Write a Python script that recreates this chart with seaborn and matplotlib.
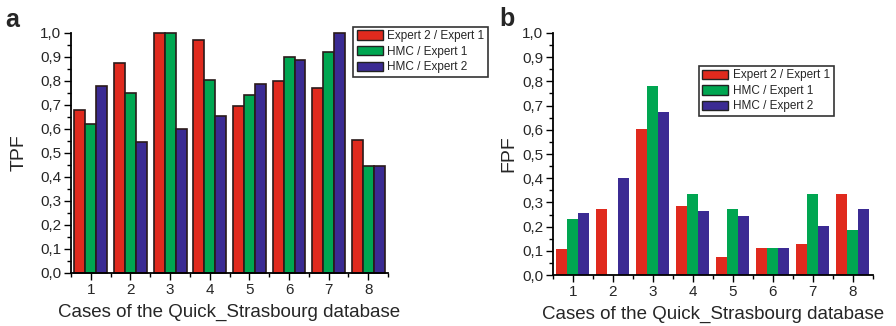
import matplotlib
matplotlib.use("Agg")
import matplotlib.pyplot as plt
import matplotlib.ticker as mticker
import seaborn as sns
import pandas as pd

sns.set_style("ticks")
plt.rcParams['font.family'] = ['Liberation Sans', 'DejaVu Sans']

cases = ["1", "2", "3", "4", "5", "6", "7", "8"]
series = ["Expert 2 / Expert 1", "HMC / Expert 1", "HMC / Expert 2"]
colors = ["#e02a1e", "#00a651", "#3b2b93"]

tpf_e2_e1 = [0.68, 0.875, 1.0, 0.97, 0.695, 0.80, 0.77, 0.555]
tpf_hmc_e1 = [0.62, 0.75, 1.0, 0.805, 0.74, 0.90, 0.92, 0.445]
tpf_hmc_e2 = [0.78, 0.545, 0.60, 0.652, 0.785, 0.887, 1.0, 0.445]

fpf_e2_e1 = [0.11, 0.272, 0.603, 0.286, 0.074, 0.114, 0.127, 0.335]
fpf_hmc_e1 = [0.23, 0.0, 0.782, 0.335, 0.274, 0.114, 0.335, 0.185]
fpf_hmc_e2 = [0.255, 0.403, 0.672, 0.265, 0.243, 0.114, 0.203, 0.274]


def long_df(a, b, c):
    rows = []
    for name, vals in zip(series, [a, b, c]):
        for case, v in zip(cases, vals):
            rows.append((case, name, v))
    return pd.DataFrame(rows, columns=["case", "pair", "value"])


tpf = long_df(tpf_e2_e1, tpf_hmc_e1, tpf_hmc_e2)
fpf = long_df(fpf_e2_e1, fpf_hmc_e1, fpf_hmc_e2)

fig = plt.figure(figsize=(8.96, 3.26), dpi=100)
ax1 = fig.add_axes([0.0792, 0.1626, 0.354, 0.737])
ax2 = fig.add_axes([0.617, 0.156, 0.357, 0.743])

comma = mticker.FuncFormatter(lambda v, p: f"{v:.1f}".replace(".", ","))


def draw(ax, df, ylabel, edge, legend_loc, ylabelpad):
    sns.barplot(data=df, x="case", y="value", hue="pair", palette=colors,
                width=0.83, gap=0, ax=ax, edgecolor=edge,
                linewidth=1.2 if edge != "none" else 0, saturation=1)
    ax.set_xlim(-0.5, 7.5)
    ax.set_ylim(0, 1.0)
    ax.yaxis.set_major_locator(mticker.MultipleLocator(0.1))
    ax.yaxis.set_minor_locator(mticker.MultipleLocator(0.05))
    ax.yaxis.set_major_formatter(comma)
    ax.xaxis.set_minor_locator(mticker.FixedLocator([i + 0.5 for i in range(-1, 8)]))
    ax.tick_params(which="major", direction="out", length=5, width=1, labelsize=11,
                   color="black", pad=2)
    ax.tick_params(which="minor", direction="out", length=3, width=1, color="black")
    for s in ["top", "right"]:
        ax.spines[s].set_visible(False)
    for s in ["left", "bottom"]:
        ax.spines[s].set_linewidth(1.3)
        ax.spines[s].set_color("black")
    ax.set_xlabel("Cases of the Quick_Strasbourg database", fontsize=13.5, labelpad=5)
    ax.set_ylabel(ylabel, fontsize=14, labelpad=ylabelpad)
    leg = ax.legend(loc="upper left", bbox_to_anchor=legend_loc, fontsize=8.5,
                    frameon=True, fancybox=False, edgecolor="black",
                    handlelength=2.2, handleheight=0.85, borderpad=0.3,
                    labelspacing=0.3, handletextpad=0.4, borderaxespad=0)
    leg.get_frame().set_linewidth(1.2)
    for h in leg.legend_handles:
        h.set_edgecolor("#222222")
        h.set_linewidth(1.0)
    for p in ax.patches:
        p.set_clip_on(False)


draw(ax1, tpf, "TPF", "#2a1a1a", (0.89, 1.025), 9)
draw(ax2, fpf, "FPF", "none", (0.456, 0.864), 3)

fig.text(0.006, 0.975, "a", fontsize=18, fontweight="bold", va="top")
fig.text(0.557, 0.98, "b", fontsize=18, fontweight="bold", va="top")

fig.savefig("out.png", dpi=100)
